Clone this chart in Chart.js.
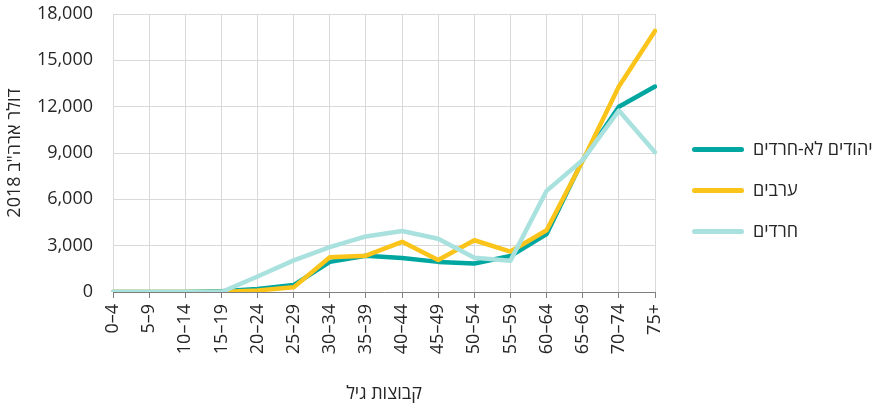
<!DOCTYPE html>
<html>
<head>
<meta charset="utf-8">
<script src="https://cdn.jsdelivr.net/npm/chart.js@4.4.0/dist/chart.umd.min.js"></script>
<style>
html,body{margin:0;padding:0;background:#fff;}
#wrap{width:880px;height:409px;}
</style>
</head>
<body>
<div id="wrap"><canvas id="c" width="880" height="409"></canvas></div>
<script>
const categories = ["0–4","5–9","10–14","15–19","20–24","25–29","30–34","35–39","40–44","45–49","50–54","55–59","60–64","65–69","70–74","75+"];
const jewsNonHaredi = [0,0,0,50,200,450,1950,2350,2200,1950,1850,2330,3750,8550,12000,13300];
const arabs = [0,0,0,0,100,300,2250,2350,3250,2070,3350,2620,4000,8500,13300,16900];
const haredi = [0,0,0,0,1000,2050,2900,3600,3950,3450,2220,2030,6550,8550,11750,9050];
const seriesNames = ["יהודים לא-חרדים","ערבים","חרדים"];
const yTicks = [0,3000,6000,9000,12000,15000,18000];
const yTitle = "\u2067דולר ארה\"ב 2018\u2069";
const xTitle = "קבוצות גיל";

const FONT = "'Open Sans', 'Noto Sans', sans-serif";
const TXT = "#262626";
const FS = 18;
Chart.defaults.font.family = FONT;
Chart.defaults.color = TXT;

const legendShift = {
  id: 'legendShift',
  afterLayout(chart) {
    const l = chart.legend;
    if (l) { l.top -= 14; l.bottom -= 14; l.left += 14; l.right += 14; }
  }
};

new Chart(document.getElementById('c'), {
  type: 'line',
  data: {
    labels: categories,
    datasets: [
      {label: seriesNames[0], data: jewsNonHaredi, borderColor: '#00A6A0', backgroundColor: '#00A6A0', order: 3},
      {label: seriesNames[1], data: arabs, borderColor: '#FBC41A', backgroundColor: '#FBC41A', order: 2},
      {label: seriesNames[2], data: haredi, borderColor: '#A9E1DE', backgroundColor: '#A9E1DE', order: 1}
    ].map(d => Object.assign(d, {borderWidth: 4.5, pointRadius: 0, tension: 0, fill: false, borderJoinStyle: 'round', borderCapStyle: 'round'}))
  },
  plugins: [legendShift],
  options: {
    responsive: false,
    animation: false,
    layout: {padding: 0},
    plugins: {
      legend: {
        position: 'right',
        align: 'center',
        labels: {
          boxWidth: 52,
          boxHeight: 5,
          useBorderRadius: true,
          borderRadius: 2.5,
          padding: 23,
          font: {size: FS, family: FONT},
          color: TXT,
          generateLabels: (chart) => chart.data.datasets.map((ds, i) => ({
            text: ds.label, fillStyle: ds.borderColor, strokeStyle: ds.borderColor, lineWidth: 0,
            datasetIndex: i, hidden: false, borderRadius: 2.5, fontColor: TXT
          }))
        }
      },
      tooltip: {enabled: false}
    },
    scales: {
      x: {
        offset: false,
        grid: {color: '#d9d9d9', lineWidth: 1, drawTicks: true, tickLength: 6, tickColor: '#7f7f7f'},
        border: {color: '#7f7f7f', width: 1},
        ticks: {minRotation: 90, maxRotation: 90, autoSkip: false, padding: 6, font: {size: FS}, color: TXT},
        title: {display: true, text: xTitle, font: {size: FS}, color: TXT, padding: {top: 0, bottom: 4}},
        afterFit: (s) => { s.height = 117; s.paddingLeft = 0; s.paddingRight = 225; }
      },
      y: {
        min: 0, max: 18000,
        afterBuildTicks: (axis) => { axis.ticks = yTicks.map(v => ({value: v})); },
        grid: {color: '#d9d9d9', lineWidth: 1, drawTicks: false},
        border: {display: false},
        ticks: {padding: 20, font: {size: FS}, color: TXT, callback: (v) => v.toLocaleString('en-US')},
        title: {display: true, text: yTitle, font: {size: FS}, color: TXT, padding: {top: 4, bottom: 0}},
        afterFit: (s) => { s.width = 113; s.paddingTop = 14; s.paddingBottom = 0; }
      }
    }
  }
});
</script>
</body>
</html>
